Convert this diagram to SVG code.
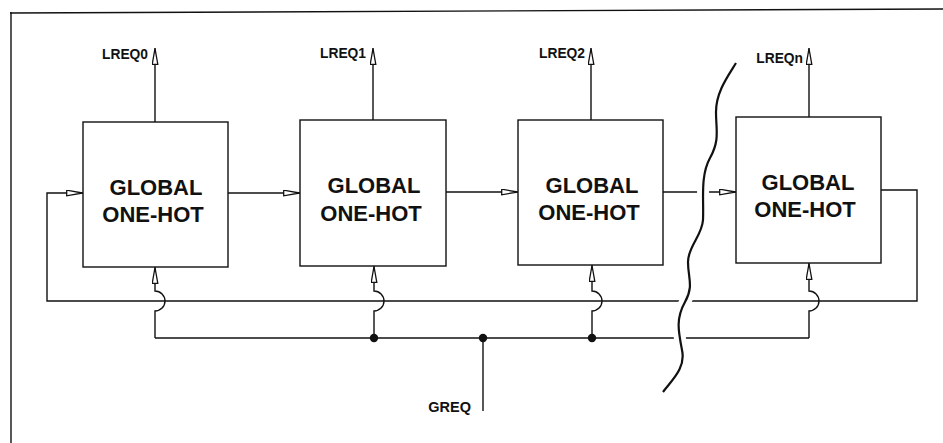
<svg xmlns="http://www.w3.org/2000/svg" width="943" height="443" viewBox="0 0 943 443">
<defs>
<style>
.box{fill:#fff;stroke:#111;stroke-width:1.4}
.ln{fill:none;stroke:#111;stroke-width:1.4}
.t{font-family:"Liberation Sans",Arial,sans-serif;font-weight:bold;font-size:22px;fill:#111;text-anchor:middle}
.lb{font-family:"Liberation Sans",Arial,sans-serif;font-weight:bold;font-size:13.8px;fill:#111;text-anchor:end}
.arr{marker-end:url(#ah)}
</style>
<marker id="ah" markerUnits="userSpaceOnUse" markerWidth="20" markerHeight="10" refX="17" refY="3.5" orient="auto">
<path d="M0.7,0.7 L16.5,3.5 L0.7,6.3 Z" fill="#fff" stroke="#111" stroke-width="1.3"/>
</marker>
</defs>
<rect width="943" height="443" fill="#fff"/>
<g id="frame">
<line class="ln" x1="10" y1="13" x2="943" y2="9" stroke-width="1.6"/>
<line class="ln" x1="11" y1="12" x2="11" y2="443" stroke-width="1.6"/>
</g>
<g id="connectors">
<path class="ln arr" d="M155,122 V48"/>
<path class="ln arr" d="M373,120 V48"/>
<path class="ln arr" d="M591,120 V48"/>
<path class="ln arr" d="M809,117 V48"/>
<path class="ln arr" d="M228,193 H300"/>
<path class="ln arr" d="M446,192 H518"/>
<path class="ln arr" d="M663,192 H736"/>
<path class="ln arr" d="M881,190 H917 V301 H47 V193 H83"/>
<path class="ln" d="M155,338 H809"/>
<path class="ln arr" d="M155,338 V311 A10,10 0 0 0 155,291 V267"/>
<path class="ln arr" d="M374,338 V311 A10,10 0 0 0 374,291 V266"/>
<path class="ln arr" d="M592,338 V311 A10,10 0 0 0 592,291 V265"/>
<path class="ln arr" d="M809,338 V311 A10,10 0 0 0 809,291 V263"/>
<path class="ln" d="M483,338 V411"/>
<circle cx="374" cy="338" r="4.2" fill="#111"/>
<circle cx="483" cy="338" r="4.2" fill="#111"/>
<circle cx="592" cy="338" r="4.2" fill="#111"/>
</g>
<g id="break">
<path d="M736,63 C728,76 716,92 716,112 C716,130 720,140 710,158 C700,176 704,200 703,220 C702,236 688,246 688,262 C688,278 694,286 685,302 C676,318 678,330 682,350 C686,368 672,380 663,392" fill="none" stroke="#fff" stroke-width="12"/>
<path d="M736,63 C728,76 716,92 716,112 C716,130 720,140 710,158 C700,176 704,200 703,220 C702,236 688,246 688,262 C688,278 694,286 685,302 C676,318 678,330 682,350 C686,368 672,380 663,392" fill="none" stroke="#111" stroke-width="2.2"/>
</g>
<g id="node1">
<rect class="box" x="83" y="122" width="145" height="145"/>
<text class="t" x="156" y="195">GLOBAL</text>
<text class="t" x="153" y="222">ONE-HOT</text>
</g>
<g id="node2">
<rect class="box" x="300" y="120" width="146" height="146"/>
<text class="t" x="374" y="193">GLOBAL</text>
<text class="t" x="371" y="221">ONE-HOT</text>
</g>
<g id="node3">
<rect class="box" x="518" y="120" width="145" height="145"/>
<text class="t" x="592" y="193">GLOBAL</text>
<text class="t" x="589" y="220">ONE-HOT</text>
</g>
<g id="node4">
<rect class="box" x="736" y="117" width="145" height="146"/>
<text class="t" x="808" y="190">GLOBAL</text>
<text class="t" x="805" y="217">ONE-HOT</text>
</g>
<g id="labels">
<text class="lb" x="148" y="59">LREQ0</text>
<text class="lb" x="366" y="58">LREQ1</text>
<text class="lb" x="585" y="58">LREQ2</text>
<text class="lb" x="803" y="63">LREQn</text>
<text class="lb" x="471" y="412" style="font-size:14.5px">GREQ</text>
</g>
</svg>
